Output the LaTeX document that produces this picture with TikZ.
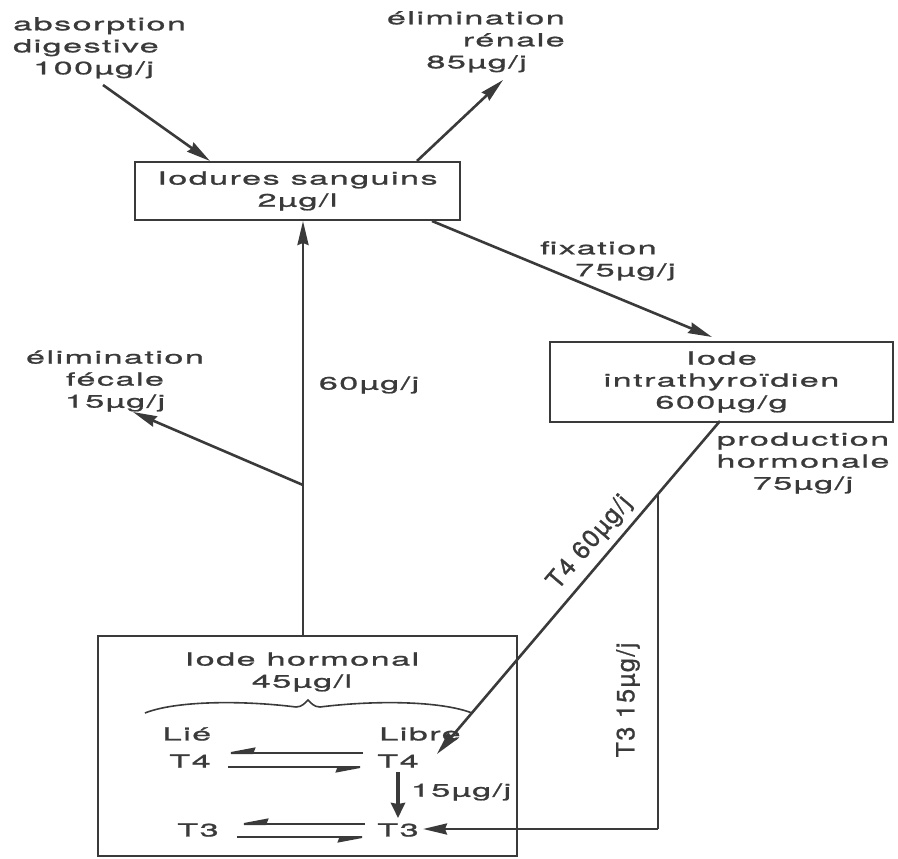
\documentclass[tikz,border=0pt]{standalone}
\usepackage{fontspec}
\setmainfont{TeX Gyre Heros}[FakeStretch=1.9, LetterSpace=8, FakeBold=1]
\newfontfamily\rotfont{TeX Gyre Heros}[LetterSpace=6, FakeBold=1]
\usetikzlibrary{arrows.meta}
\definecolor{ink}{HTML}{3A3A3A}
\begin{document}
\begin{tikzpicture}[x=1pt,y=-1pt,
  line/.style={draw=ink, line width=2.6pt},
  arr/.style={line, -{Stealth[length=24pt,width=11pt,inset=2pt]}},
  box/.style={draw=ink, line width=2.6pt, inner sep=0pt, text=ink,
    font=\fontsize{18}{22}\selectfont, align=center},
  lbl/.style={text=ink, font=\fontsize{18}{22}\selectfont, inner sep=0pt},
  rlbl/.style={text=ink, font=\rotfont\fontsize{25}{25}\selectfont, inner sep=0pt},
  harp/.style={draw=ink, line width=2pt, -{Stealth[harpoon,swap,length=30pt,width=11pt,inset=2pt]}},
  thick arr/.style={draw=ink, line width=4.5pt, -{Stealth[length=15pt,width=14pt,inset=1pt]}}]
\useasboundingbox (0,0) rectangle (898,859);

% boxes
\node[box, minimum width=325pt, minimum height=58pt] (sang) at (297.5,191) {Iodures sanguins\\2µg/l};
\node[box, minimum width=343pt, minimum height=80pt] (thyr) at (721.5,382) {Iode\\intrathyroïdien\\600µg/g};
\node[box, minimum width=419pt, minimum height=220pt] (horm) at (307.5,746) {};

% outer labels
\node[lbl, align=left, anchor=north west] (abs) at (13,17) {absorption\\digestive\\\hspace*{20pt}100µg/j};
\node[lbl, align=right, anchor=north east] (ren) at (565,11) {élimination\\rénale\\85µg/j\hspace*{38pt}};
\node[lbl, align=left, anchor=north west] (fix) at (540,241) {fixation\\\hspace*{35pt}75µg/j};
\node[lbl, align=center] (fec) at (115,381) {élimination\\fécale\\15µg/j};
\node[lbl] (sixty) at (369,385) {60µg/j};
\node[lbl, align=center] (prod) at (803,463) {production\\hormonale\\75µg/j};

% inner labels of hormonal box
\node[lbl, align=center] (ihorm) at (302,672) {Iode hormonal\\45µg/l};
\node[lbl] (lie) at (187,734) {Lié};
\node[lbl] (libre) at (420,734) {Libre};
\node[lbl] (t4l) at (190,761) {T4};
\node[lbl] (t4r) at (398,761) {T4};
\node[lbl] (t3l) at (198,830) {T3};
\node[lbl] (t3r) at (398,830) {T3};
\node[lbl] (fifteen) at (461,792) {15µg/j};

% named end points
\coordinate (absE) at (103,85);
\coordinate (sangA) at (210,161);
\coordinate (sangR) at (417,161);
\coordinate (renE) at (503,80);
\coordinate (sangF) at (432,221);
\coordinate (thyrF) at (712,337);
\coordinate (hormTop) at (303,636);
\coordinate (sangB) at (303,221);
\coordinate (fork) at (303,485);
\coordinate (fecE) at (133,412);
\coordinate (thyrB) at (720,421);
\coordinate (t4in) at (437,754);
\coordinate (t3fork) at (658,495);
\coordinate (t3corner) at (658,829);
\coordinate (t3in) at (423,829);

% main connectors
\draw[arr] (absE) -- (sangA);
\draw[arr] (sangR) -- (renE);
\draw[arr] (sangF) -- (thyrF);
\draw[arr] (hormTop) -- (sangB);
\draw[arr] (fork) -- (fecE);
\draw[arr] (thyrB) -- (t4in);
\draw[line] (t3fork) -- (t3corner);
\draw[arr] (t3corner) -- (t3in);

% rotated labels
\node[rlbl, rotate=49.6] (t4lab) at (590,543) {T4 60µg/j};
\node[rlbl, rotate=90] (t3lab) at (628,700) {T3 15µg/j};

% brace (wavy)
\coordinate (brL) at (145,713);
\coordinate (brM) at (308,700);
\coordinate (brR) at (472,713);
\draw[draw=ink, line width=1.6pt]
  (brL) .. controls (175,701) and (240,700) .. (296,707)
  .. controls (302,707) and (305,703) .. (brM)
  .. controls (311,703) and (314,707) .. (320,707)
  .. controls (376,700) and (441,701) .. (brR);

% equilibria
\coordinate (a1s) at (363,753); \coordinate (a1e) at (220,753);
\coordinate (a2s) at (228,767); \coordinate (a2e) at (371,767);
\coordinate (b1s) at (365,824); \coordinate (b1e) at (233,824);
\coordinate (b2s) at (237,837); \coordinate (b2e) at (373,837);
\draw[harp] (a1s) -- (a1e);
\draw[harp] (a2s) -- (a2e);
\draw[harp] (b1s) -- (b1e);
\draw[harp] (b2s) -- (b2e);
\draw[thick arr] (t4r.south |- 0,772) -- (t3r.north |- 0,818);
\end{tikzpicture}
\end{document}
